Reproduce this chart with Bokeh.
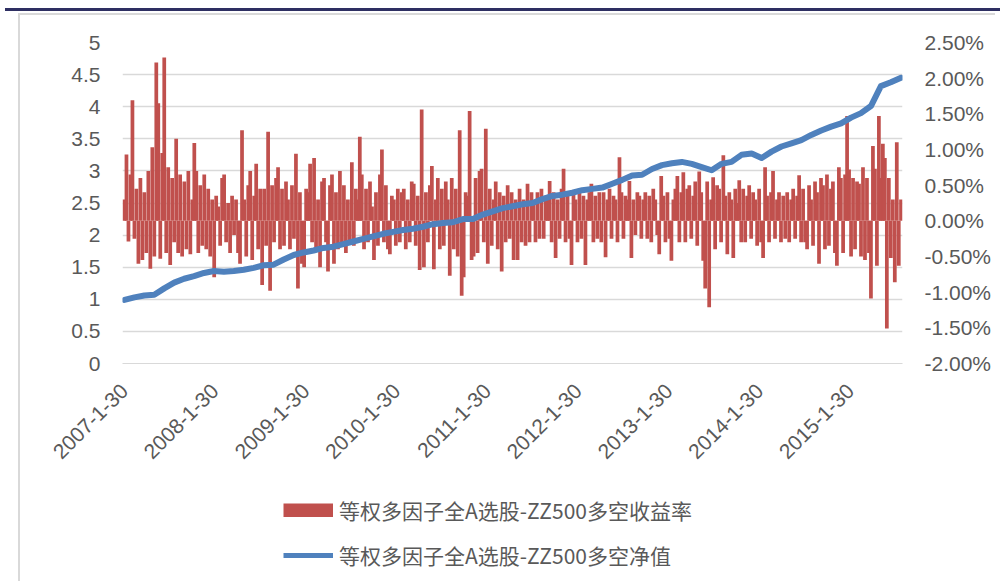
import math
import pandas as pd
from bokeh.plotting import figure
from bokeh.models import (Range1d, LinearAxis, FixedTicker, NumeralTickFormatter,
                          CustomJSTickFormatter, Legend, LegendItem, Div, ColumnDataSource)
from bokeh.layouts import column
from bokeh.embed import file_html
from bokeh.resources import INLINE

# ---------------- data ----------------
start_date = "2007-01-30"
end_date = "2015-08-21"
tick_years = [2007, 2008, 2009, 2010, 2011, 2012, 2013, 2014, 2015]
tick_labels = [f"{y}-1-30" for y in tick_years]

series_ret_name = "等权多因子全A选股-ZZ500多空收益率"
series_nav_name = "等权多因子全A选股-ZZ500多空净值"

# daily long-short return (percent), sampled along the period
ret_pct = [
    0.3, 0.93, -0.29, 0.65, 1.69, -0.25, 0.45, -0.6, 0.6, -0.55,
    0.4, -0.45, 0.7, -0.67, 1.03, -0.5, 2.22, 1.65, -0.53, 0.95,
    2.29, -0.45, 0.75, -0.62, 0.6, -0.3, 1.15, -0.45, 0.65, -0.5,
    0.55, -0.4, 0.7, -0.47, 0.3, 1.09, 0.7, -0.45, 0.5, -0.35,
    0.65, -0.4, 0.45, -0.5, 0.3, -0.79, 0.35, 0.2, -0.35, 0.6,
    0.65, -0.3, 0.25, -0.45, 0.35, -0.2, 0.3, -0.45, -0.6, 1.27,
    0.3, -0.5, 0.5, 0.7, -0.55, 0.35, 0.8, -0.4, 0.45, -0.9,
    0.45, -0.35, 1.25, -0.98, 0.5, -0.3, 0.6, 0.75, -0.4, 0.45,
    -0.35, 0.55, 0.3, -0.4, 0.5, -0.25, 0.94, -0.95, 0.4, -0.6,
    -0.65, 0.45, 0.4, 0.8, -0.3, 0.88, -0.4, 0.3, -0.65, 0.55,
    0.6, -0.3, -0.71, 0.5, 0.65, -0.6, 0.4, -0.4, 0.7, -0.35,
    0.5, -0.45, 0.3, -0.3, 0.82, -0.35, 0.45, 0.3, 1.18, 0.65,
    -0.4, 0.45, -0.3, 0.55, 0.2, -0.55, 0.4, -0.35, 0.65, 1.0,
    -0.3, 0.5, -0.4, -0.47, 0.35, 0.3, -0.35, 0.45, -0.3, 0.4,
    0.45, -0.4, 0.3, -0.3, 0.55, 0.52, -0.35, 0.35, -0.69, 1.56,
    -0.65, 0.4, -0.3, 0.5, 0.77, -0.68, 0.3, 0.6, -0.4, 0.45,
    -0.35, 0.55, 0.3, -0.77, 0.6, -0.4, 0.45, -0.5, 1.27, -1.05,
    -0.79, 0.4, 0.35, 1.54, -0.55, -0.5, 0.6, -0.45, 0.7, 0.73,
    -0.3, 1.29, -0.6, 0.45, -0.35, 0.3, 0.55, -0.4, 0.4, -0.71,
    0.35, -0.3, 0.5, -0.25, 0.4, -0.55, 0.3, -0.55, 0.45, -0.3,
    0.3, -0.35, 0.52, -0.3, 0.4, 0.25, -0.3, 0.4, -0.25, 0.45,
    -0.25, 0.35, 0.3, 0.56, -0.3, 0.4, -0.52, 0.3, -0.25, 0.45,
    0.73, -0.3, 0.35, -0.25, -0.62, 0.4, 0.3, -0.3, 0.45, -0.25,
    0.35, -0.62, 0.3, 0.4, 0.52, -0.3, 0.35, -0.25, 0.4, -0.3,
    0.4, -0.51, 0.3, 0.45, -0.25, 0.35, 0.3, -0.3, 0.89, 0.4,
    -0.25, 0.35, 0.3, 0.56, -0.52, 0.3, -0.2, 0.4, 0.35, -0.25,
    0.3, 0.4, -0.25, 0.35, -0.3, 0.45, 0.3, -0.2, -0.47, 0.63,
    0.35, -0.3, 0.4, -0.25, -0.56, 0.3, 0.45, 0.63, -0.3, 0.4,
    0.68, -0.3, 0.45, 0.5, -0.25, 0.35, 0.55, -0.35, 0.69, 0.4,
    -0.56, -0.95, 0.55, -1.21, 0.3, 0.61, -0.4, 0.5, 0.45, -0.3,
    0.92, 0.35, -0.47, 0.4, 0.3, -0.52, 0.45, 0.25, 0.57, -0.3,
    0.45, -0.3, 0.35, 0.5, -0.25, 0.4, 0.3, -0.35, 0.45, -0.3,
    -0.52, 0.75, 0.35, -0.3, 0.4, 0.7, -0.25, 0.3, 0.4, -0.3,
    0.35, -0.25, 0.4, -0.3, 0.3, 0.45, -0.25, 0.35, 0.64, -0.3,
    0.45, -0.3, -0.4, 0.5, 0.3, -0.35, 0.55, 0.4, -0.6, 0.6,
    0.5, -0.4, 0.65, -0.35, 0.45, 0.55, -0.45, -0.63, 0.75, 0.6,
    -0.45, 0.65, 1.47, 0.72, -0.5, 0.6, -0.4, 0.55, 0.52, -0.5,
    0.75, -0.55, 0.6, -0.45, -1.09, 1.05, 0.73, -0.63, 1.47, 0.6,
    1.08, 0.88, -1.51, 0.6, -0.52, 0.3, -0.86, 1.10, -0.63, 0.3,
]

# long-short net value, sampled along the period
nav = [
    0.99, 1.03, 1.06, 1.07, 1.17, 1.26, 1.32, 1.36, 1.41, 1.44,
    1.43, 1.44, 1.46, 1.49, 1.53, 1.54, 1.62, 1.69, 1.73, 1.76,
    1.80, 1.82, 1.86, 1.90, 1.94, 1.98, 2.02, 2.05, 2.08, 2.10,
    2.13, 2.17, 2.19, 2.20, 2.25, 2.25, 2.32, 2.37, 2.42, 2.45,
    2.48, 2.50, 2.56, 2.61, 2.63, 2.66, 2.70, 2.72, 2.74, 2.80,
    2.86, 2.93, 2.94, 3.03, 3.09, 3.12, 3.14, 3.11, 3.06, 3.01,
    3.11, 3.14, 3.25, 3.27, 3.20, 3.30, 3.38, 3.43, 3.48, 3.56,
    3.63, 3.69, 3.74, 3.83, 3.90, 4.01, 4.32, 4.38, 4.45,
]

left_ticks = [0, 0.5, 1, 1.5, 2, 2.5, 3, 3.5, 4, 4.5, 5]
right_ticks = [-0.02, -0.015, -0.01, -0.005, 0, 0.005, 0.01, 0.015, 0.02, 0.025]

# ---------------- build ----------------
t0 = pd.Timestamp(start_date)
ret_days = [(d - t0).days for d in pd.date_range(start_date, end_date, periods=len(ret_pct))]
nav_days = [(d - t0).days for d in pd.date_range(start_date, end_date, periods=len(nav))]
tick_days = [(pd.Timestamp(f"{y}-01-30") - t0).days for y in tick_years]

ret_src = ColumnDataSource(dict(x=ret_days, top=[v / 100.0 for v in ret_pct]))
nav_src = ColumnDataSource(dict(x=nav_days, y=nav))

TXT = "#595959"
GRID = "#D9D9D9"
RED = "#C0504D"
BLUE = "#4F81BD"
AXFONT = "Liberation Sans"
AXSIZE = "21px"
BORDER = "2px solid #D9D9D9"

p = figure(width=977, height=478, output_backend="svg", toolbar_location=None,
           x_range=Range1d(-8, 3131), y_range=Range1d(0, 5),
           min_border_left=102, min_border_right=95, min_border_top=27, min_border_bottom=130,
           margin=(2, 0, 0, 18),
           styles={"border-left": BORDER, "border-top": BORDER})
p.outline_line_color = None
p.background_fill_color = "white"
p.border_fill_color = "white"
p.extra_y_ranges = {"ret": Range1d(-0.02, 0.025)}

bars = p.vbar(x="x", top="top", bottom=0, width=15, source=ret_src, y_range_name="ret",
              fill_color=RED, line_color=None)
line = p.line(x="x", y="y", source=nav_src, line_color=BLUE, line_width=6,
              line_join="round", line_cap="round")

# left axis
yl = p.yaxis[0]
yl.ticker = FixedTicker(ticks=left_ticks)
yl.formatter = CustomJSTickFormatter(code="return tick.toString();")
yl.axis_line_color = None
yl.major_tick_line_color = None
yl.major_tick_out = 0
yl.minor_tick_line_color = None
yl.major_label_standoff = 22
yl.major_label_text_font = AXFONT
yl.major_label_text_font_size = AXSIZE
yl.major_label_text_color = TXT

# right axis
yr = LinearAxis(y_range_name="ret", ticker=FixedTicker(ticks=right_ticks),
                formatter=NumeralTickFormatter(format="0.00%"))
yr.axis_line_color = None
yr.major_tick_line_color = None
yr.major_tick_out = 0
yr.minor_tick_line_color = None
yr.major_label_standoff = 22
yr.major_label_text_font = AXFONT
yr.major_label_text_font_size = AXSIZE
yr.major_label_text_color = TXT
p.add_layout(yr, "right")

# x axis
xa = p.xaxis[0]
xa.ticker = FixedTicker(ticks=tick_days)
xa.major_label_overrides = {d: lab for d, lab in zip(tick_days, tick_labels)}
xa.major_label_orientation = math.pi / 4
xa.axis_line_color = GRID
xa.major_tick_line_color = None
xa.major_tick_out = 0
xa.minor_tick_line_color = None
xa.major_label_standoff = 24
xa.major_label_text_font = AXFONT
xa.major_label_text_font_size = AXSIZE
xa.major_label_text_color = TXT

p.xgrid.grid_line_color = None
p.ygrid.grid_line_color = GRID
p.ygrid.grid_line_width = 1.5

# legend strip below the chart: same sources and styles, ranges set away from the data
pl = figure(width=977, height=90, output_backend="svg", toolbar_location=None,
            x_range=Range1d(-100000, -99999), y_range=Range1d(1000, 1001),
            x_axis_type=None, y_axis_type=None,
            min_border_left=0, min_border_right=0, min_border_top=0, min_border_bottom=0,
            margin=(0, 0, 0, 18), styles={"border-left": BORDER})
pl.outline_line_color = None
pl.grid.visible = False
# solid swatch for the return series: a thick butt-capped stroke fills the 50x14 box
lg_bar = pl.line(x="x", y="top", source=ret_src, line_color=RED, line_width=14,
                 line_cap="butt")
lg_line = pl.line(x="x", y="y", source=nav_src, line_color=BLUE, line_width=5)

legend = Legend(items=[LegendItem(label=series_ret_name, renderers=[lg_bar]),
                       LegendItem(label=series_nav_name, renderers=[lg_line])],
                location=(161, 11), orientation="vertical",
                glyph_width=50, glyph_height=14, label_standoff=6,
                label_height=30, spacing=15,
                padding=0, margin=0, border_line_color=None, background_fill_alpha=0,
                label_text_font="Noto Sans CJK SC", label_text_font_size="21px",
                label_text_color=TXT)
pl.add_layout(legend, "center")

top_rule = Div(text="", width=995, height=3, margin=(8, 0, 0, 5),
               styles={"background-color": "#2E2F62"})

layout = column(top_rule, p, pl, spacing=0)
open("out.html", "w").write(file_html(layout, INLINE))
